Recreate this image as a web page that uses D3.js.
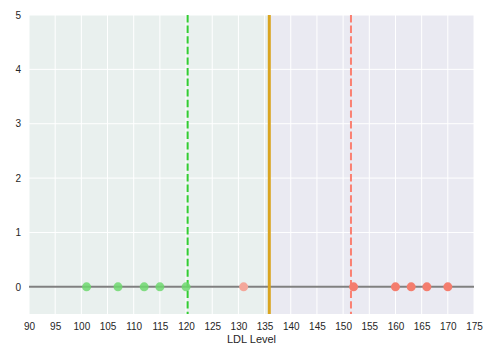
<!DOCTYPE html>
<html><head><meta charset="utf-8">
<script src="https://cdn.jsdelivr.net/npm/d3@7"></script>
<style>body{margin:0;background:#fff}svg{display:block;font-family:Arial,"Liberation Sans",sans-serif}</style>
</head><body><svg id="c" width="492" height="356"></svg>
<script>
const xTicks = [90,95,100,105,110,115,120,125,130,135,140,145,150,155,160,165,170,175];
const yTicks = [0,1,2,3,4,5];
const greenPoints = [101,107,112,115,120];
const fadedPoints = [131];
const redPoints = [152,160,163,166,170];
const threshold = 135.9;
const greenLine = 120.3;
const redLine = 151.5;

const svg = d3.select("#c");
const m = {l:29, r:474, t:15, b:314};
const x = d3.scaleLinear().domain([90,175]).range([m.l,m.r]);
const y = d3.scaleLinear().domain([-0.5,5]).range([m.b,m.t]);

svg.append("rect").attr("x",m.l).attr("y",m.t).attr("width",m.r-m.l).attr("height",m.b-m.t).attr("fill","#EAEAF2");
svg.append("rect").attr("x",x(90)).attr("y",m.t).attr("width",x(threshold)-x(90)).attr("height",m.b-m.t).attr("fill","#E9F0EE");

svg.append("g").selectAll("line").data(xTicks).join("line")
  .attr("x1",d=>x(d)).attr("x2",d=>x(d)).attr("y1",m.t).attr("y2",m.b).attr("stroke","#fff").attr("stroke-width",1);
svg.append("g").selectAll("line").data(yTicks).join("line")
  .attr("x1",m.l).attr("x2",m.r).attr("y1",d=>y(d)).attr("y2",d=>y(d)).attr("stroke","#fff").attr("stroke-width",1);

const xa = svg.append("g").attr("transform",`translate(0,${m.b})`).call(d3.axisBottom(x).tickValues(xTicks).tickFormat(d3.format("d")).tickSize(0).tickPadding(9));
xa.select(".domain").remove();
xa.selectAll("text").attr("font-size",10).attr("fill","#262626").attr("font-family","Arial,'Liberation Sans',sans-serif");
const ya = svg.append("g").attr("transform",`translate(${m.l},0)`).call(d3.axisLeft(y).tickValues(yTicks).tickFormat(d3.format("d")).tickSize(0).tickPadding(8));
ya.select(".domain").remove();
ya.selectAll("text").attr("font-size",10).attr("fill","#262626").attr("font-family","Arial,'Liberation Sans',sans-serif");

svg.append("text").attr("x",(m.l+m.r)/2).attr("y",343).attr("text-anchor","middle").attr("font-size",11).attr("fill","#262626").text("LDL Level");

svg.append("line").attr("x1",m.l).attr("x2",m.r).attr("y1",y(0)).attr("y2",y(0)).attr("stroke","#808080").attr("stroke-width",2);

svg.append("line").attr("x1",x(greenLine)).attr("x2",x(greenLine)).attr("y1",m.t).attr("y2",m.b).attr("stroke","#32CD32").attr("stroke-width",2).attr("stroke-dasharray","7.4,3.2");
svg.append("line").attr("x1",x(redLine)).attr("x2",x(redLine)).attr("y1",m.t).attr("y2",m.b).attr("stroke","#FA8072").attr("stroke-width",2).attr("stroke-dasharray","7.4,3.2");

svg.append("g").selectAll("circle").data(greenPoints).join("circle").attr("cx",d=>x(d)).attr("cy",y(0)).attr("r",4.5).attr("fill","#6FD86F").attr("opacity",0.85);
svg.append("g").selectAll("circle").data(fadedPoints).join("circle").attr("cx",d=>x(d)).attr("cy",y(0)).attr("r",4.5).attr("fill","#F4A79A");
svg.append("g").selectAll("circle").data(redPoints).join("circle").attr("cx",d=>x(d)).attr("cy",y(0)).attr("r",4.5).attr("fill","#F47D6E");

svg.append("line").attr("x1",x(threshold)).attr("x2",x(threshold)).attr("y1",m.t).attr("y2",m.b).attr("stroke","#DAA520").attr("stroke-width",3);
</script></body></html>
